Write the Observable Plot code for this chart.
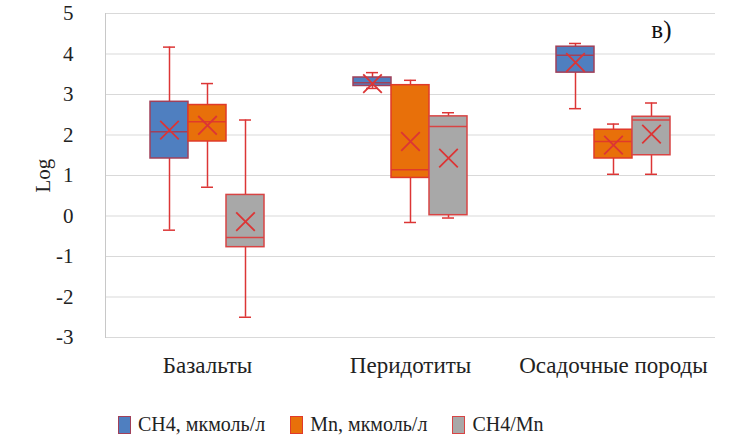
<!DOCTYPE html>
<html>
<head>
<meta charset="utf-8">
<script src="https://cdn.jsdelivr.net/npm/d3@7"></script>
<script src="https://cdn.jsdelivr.net/npm/@observablehq/plot@0.6"></script>
<style>
  body { margin: 0; background: #fff; font-family: "Liberation Serif", "Times New Roman", serif; }
  #legend { display: flex; justify-content: flex-start; align-items: center; padding-left: 118px; margin-top: 18px; font-size: 20px; color: #222; }
  #legend .item { display: flex; align-items: center; margin-right: 25px; }
  #legend .sw { width: 13px; height: 18px; box-sizing: border-box; border: 1.5px solid; margin-right: 7px; }
</style>
</head>
<body>
<div id="chart"></div>
<div id="legend"></div>
<script>
const categories = ["Базальты", "Перидотиты", "Осадочные породы"];
const series = ["CH4, мкмоль/л", "Mn, мкмоль/л", "CH4/Mn"];
const yTicks = [-3, -2, -1, 0, 1, 2, 3, 4, 5];
const panelLabel = ["в)"];

// order: for each category, series CH4, Mn, CH4/Mn
const whiskerMin = [-0.35, 0.71, -2.50, 3.15, -0.16, -0.05, 2.65, 1.03, 1.03];
const quart1     = [ 1.42, 1.84, -0.77, 3.21,  0.94,  0.02, 3.54, 1.42, 1.50];
const medians    = [ 2.08, 2.33, -0.53, 3.29,  1.14,  2.21, 3.97, 1.84, 2.37];
const quart3     = [ 2.82, 2.74,  0.52, 3.42,  3.23,  2.46, 4.18, 2.13, 2.45];
const whiskerMax = [ 4.17, 3.27,  2.37, 3.54,  3.35,  2.55, 4.26, 2.27, 2.79];
const means      = [ 2.12, 2.24, -0.14, 3.27,  1.84,  1.43, 3.79, 1.75, 2.02];

const fills = ["#4f7fc0", "#e8700a", "#a8a8a8"];
const strokes = ["#a0405a", "#e03a2a", "#d84444"];
const red = "#dc3535";

const rows = [];
categories.forEach((c, ci) => series.forEach((s, si) => {
  const i = ci * series.length + si;
  rows.push({cat: c, ser: s, si, min: whiskerMin[i], q1: quart1[i], med: medians[i], q3: quart3[i], max: whiskerMax[i], mean: means[i]});
}));

const boxW = 38;
const marks = [
  Plot.gridY(yTicks, {stroke: "#d9d9d9", strokeOpacity: 1}),
  Plot.frame({anchor: "left", stroke: "#c8c8c8"}),
  Plot.axisY(yTicks, {tickSize: 0, tickPadding: 32, fontSize: 21, label: null, tickFormat: d => String(d)}),
  Plot.axisX({tickSize: 0, tickPadding: 19, fontSize: 23, label: null}),
  Plot.text(["Log"], {frameAnchor: "left", rotate: -90, dx: -62, dy: 17, fontSize: 21, fill: "#222"}),
  Plot.text(panelLabel, {frameAnchor: "top-right", dx: -44, dy: 7, fontSize: 25, fill: "#111"})
];
series.forEach((s, si) => {
  const data = rows.filter(r => r.si === si);
  const dx = (si - 1) * boxW;
  marks.push(
    Plot.ruleX(data, {x: "cat", y1: "min", y2: "max", stroke: red, strokeWidth: 1.5, dx}),
    Plot.tickY(data, {x: "cat", y: "max", stroke: red, strokeWidth: 1.5, dx, insetLeft: 13, insetRight: 13}),
    Plot.tickY(data, {x: "cat", y: "min", stroke: red, strokeWidth: 1.5, dx, insetLeft: 13, insetRight: 13}),
    Plot.barY(data, {x: "cat", y1: "q1", y2: "q3", fill: fills[si], stroke: strokes[si], strokeWidth: 1.5, dx}),
    Plot.tickY(data, {x: "cat", y: "med", stroke: strokes[si], strokeWidth: 1.5, dx}),
    Plot.dot(data, {x: "cat", y: "mean", symbol: "times", r: 8.5, stroke: red, strokeWidth: 1.8, dx})
  );
});

const chart = Plot.plot({
  width: 734,
  height: 395,
  marginTop: 13,
  marginBottom: 58,
  marginLeft: 105,
  marginRight: 19,
  style: {fontFamily: "Liberation Serif, Times New Roman, serif", fontSize: "21px", background: "white", color: "#222"},
  x: {type: "band", domain: categories, paddingInner: 0.813, paddingOuter: 0.4065},
  y: {domain: [-3, 5]},
  marks
});
document.getElementById("chart").append(chart);

const legend = document.getElementById("legend");
series.forEach((s, si) => {
  const item = document.createElement("div");
  item.className = "item";
  const sw = document.createElement("span");
  sw.className = "sw";
  sw.style.background = fills[si];
  sw.style.borderColor = strokes[si];
  const t = document.createElement("span");
  t.textContent = s;
  item.append(sw, t);
  legend.append(item);
});
</script>
</body>
</html>
